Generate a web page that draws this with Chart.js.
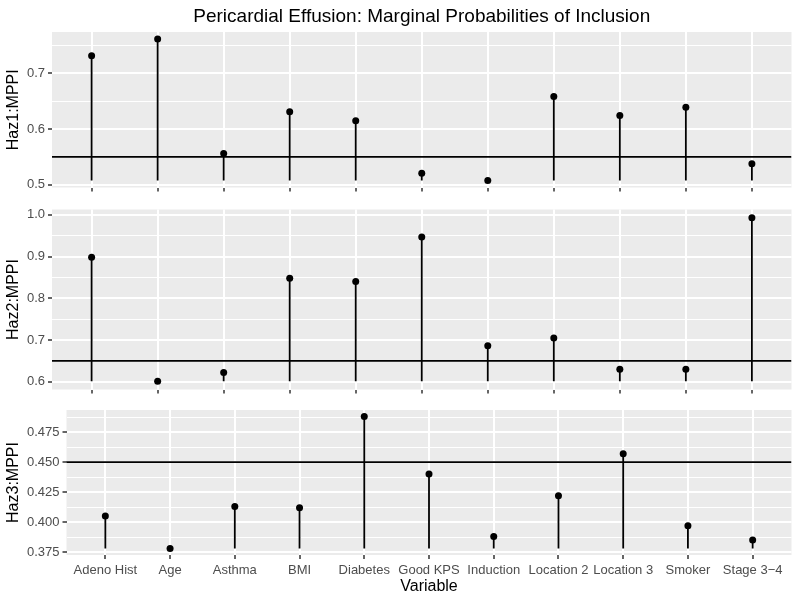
<!DOCTYPE html>
<html>
<head>
<meta charset="utf-8">
<script src="https://cdn.jsdelivr.net/npm/chart.js@4"></script>
<style>
  body { margin: 0; background: #fff; }
  #wrap { position: relative; width: 800px; height: 600px; }
  canvas { position: absolute; left: 0; }
</style>
</head>
<body>
<div id="wrap">
  <canvas id="haz1" width="800" height="200" style="top:0"></canvas>
  <canvas id="haz2" width="800" height="198" style="top:200px"></canvas>
  <canvas id="haz3" width="800" height="202" style="top:398px"></canvas>
</div>
<script>
// --- Données ---
const variables = ['Adeno Hist', 'Age', 'Asthma', 'BMI', 'Diabetes', 'Good KPS', 'Induction',
  'Location 2', 'Location 3', 'Smoker', 'Stage 3\u22124'];

const haz1 = [0.731, 0.761, 0.556, 0.631, 0.615, 0.521, 0.508, 0.658, 0.624, 0.639, 0.538];
const haz2 = [0.898, 0.601, 0.622, 0.848, 0.840, 0.947, 0.686, 0.705, 0.630, 0.630, 0.993];
const haz3 = [0.405, 0.378, 0.413, 0.412, 0.488, 0.440, 0.388, 0.422, 0.457, 0.397, 0.385];

const cutoff1 = 0.55;
const cutoff2 = 0.65;
const cutoff3 = 0.45;

const haz1Ticks = [0.5, 0.6, 0.7];
const haz1TickLabels = ['0.5', '0.6', '0.7'];
const haz1Minor = [0.55, 0.65, 0.75];

const haz2Ticks = [0.6, 0.7, 0.8, 0.9, 1.0];
const haz2TickLabels = ['0.6', '0.7', '0.8', '0.9', '1.0'];
const haz2Minor = [0.65, 0.75, 0.85, 0.95];

const haz3Ticks = [0.375, 0.4, 0.425, 0.45, 0.475];
const haz3TickLabels = ['0.375', '0.400', '0.425', '0.450', '0.475'];
const haz3Minor = [0.3875, 0.4125, 0.4375, 0.4625, 0.4875];

const TITLE = 'Pericardial Effusion: Marginal Probabilities of Inclusion';

// axe x discret façon ggplot (0.6 de marge de chaque côté)
const X_MIN = -0.6;
const X_MAX = variables.length - 1 + 0.6;

Chart.defaults.font.family = '"Liberation Sans", Arial, sans-serif';

const panelBg = {
  id: 'panelBg',
  beforeDraw(chart) {
    const { ctx, chartArea: a } = chart;
    ctx.save();
    ctx.fillStyle = '#EBEBEB';
    ctx.fillRect(a.left, a.top, a.right - a.left, a.bottom - a.top);
    ctx.restore();
  }
};

function makePanel(id, p) {
  const lo = Math.min(...p.values);
  const hi = Math.max(...p.values);
  const expand = (hi - lo) * 0.05;

  // segments du minimum jusqu'à la valeur, coupés par des null
  const stems = [];
  p.values.forEach((v, i) => {
    stems.push({ x: i, y: lo }, { x: i, y: v }, { x: i, y: null });
  });

  const yTicks = p.ticks.map((v, i) => ({ value: v, text: p.labels[i] }))
    .concat(p.minor.map(v => ({ value: v, minor: true })))
    .sort((a, b) => a.value - b.value);

  return new Chart(document.getElementById(id), {
    type: 'scatter',
    data: {
      datasets: [
        {
          data: p.values.map((v, i) => ({ x: i, y: v })),
          pointRadius: 3.5,
          pointBackgroundColor: '#000',
          pointBorderWidth: 0
        },
        {
          data: [{ x: X_MIN, y: p.cutoff }, { x: X_MAX, y: p.cutoff }],
          showLine: true,
          borderColor: '#000',
          borderWidth: 1.8,
          pointRadius: 0
        },
        {
          data: stems,
          showLine: true,
          spanGaps: false,
          borderColor: '#000',
          borderWidth: 1.8,
          pointRadius: 0
        }
      ]
    },
    options: {
      responsive: false,
      animation: false,
      events: [],
      layout: { padding: { top: p.padTop, right: 8.5, left: 0, bottom: 0 } },
      plugins: {
        legend: { display: false },
        tooltip: { enabled: false },
        title: {
          display: !!p.title,
          text: p.title || '',
          fullSize: false,
          color: '#000',
          font: { size: 19, weight: 'normal' },
          padding: { top: 5.6, bottom: 3.6 }
        }
      },
      scales: {
        x: {
          type: 'linear',
          min: X_MIN,
          max: X_MAX,
          afterBuildTicks: s => { s.ticks = variables.map((_, i) => ({ value: i })); },
          afterFit: s => { s.height = p.xHeight; s.paddingLeft = 0; s.paddingRight = 0; },
          border: { display: false },
          grid: { color: '#fff', lineWidth: 2, tickColor: '#333', tickLength: 4, tickWidth: 1.5 },
          ticks: {
            display: !!p.showX,
            autoSkip: false,
            maxRotation: 0,
            color: '#4D4D4D',
            font: { size: 13 },
            padding: 4,
            callback: v => variables[v]
          },
          title: {
            display: !!p.showX,
            text: 'Variable',
            color: '#000',
            font: { size: 16 },
            padding: { top: 0, bottom: 3.6 }
          }
        },
        y: {
          min: lo - expand,
          max: hi + expand,
          afterBuildTicks: s => { s.ticks = yTicks.map(t => ({ ...t })); },
          afterFit: s => { s.width = p.yWidth; s.paddingTop = 0; s.paddingBottom = 0; },
          border: { display: false },
          grid: {
            color: '#fff',
            lineWidth: c => (c.tick && c.tick.minor ? 1 : 2),
            tickColor: c => (c.tick && c.tick.minor ? 'rgba(0,0,0,0)' : '#333'),
            tickLength: 4,
            tickWidth: 1.5
          },
          ticks: {
            autoSkip: false,
            color: '#4D4D4D',
            font: { size: 13 },
            padding: 3,
            callback: (v, i, t) => t[i].text || ''
          },
          title: {
            display: true,
            text: p.yTitle,
            color: '#000',
            font: { size: 16 },
            padding: { top: 4, bottom: 0 }
          }
        }
      }
    },
    plugins: [panelBg]
  });
}

makePanel('haz1', {
  title: TITLE, yTitle: 'Haz1:MPPI', values: haz1, cutoff: cutoff1,
  ticks: haz1Ticks, labels: haz1TickLabels, minor: haz1Minor,
  padTop: 0, yWidth: 52, xHeight: 12.5, showX: false
});

makePanel('haz2', {
  yTitle: 'Haz2:MPPI', values: haz2, cutoff: cutoff2,
  ticks: haz2Ticks, labels: haz2TickLabels, minor: haz2Minor,
  padTop: 9.5, yWidth: 52, xHeight: 8.5, showX: false
});

makePanel('haz3', {
  yTitle: 'Haz3:MPPI', values: haz3, cutoff: cutoff3,
  ticks: haz3Ticks, labels: haz3TickLabels, minor: haz3Minor,
  padTop: 12, yWidth: 66.5, xHeight: 45, showX: true
});
</script>
</body>
</html>
